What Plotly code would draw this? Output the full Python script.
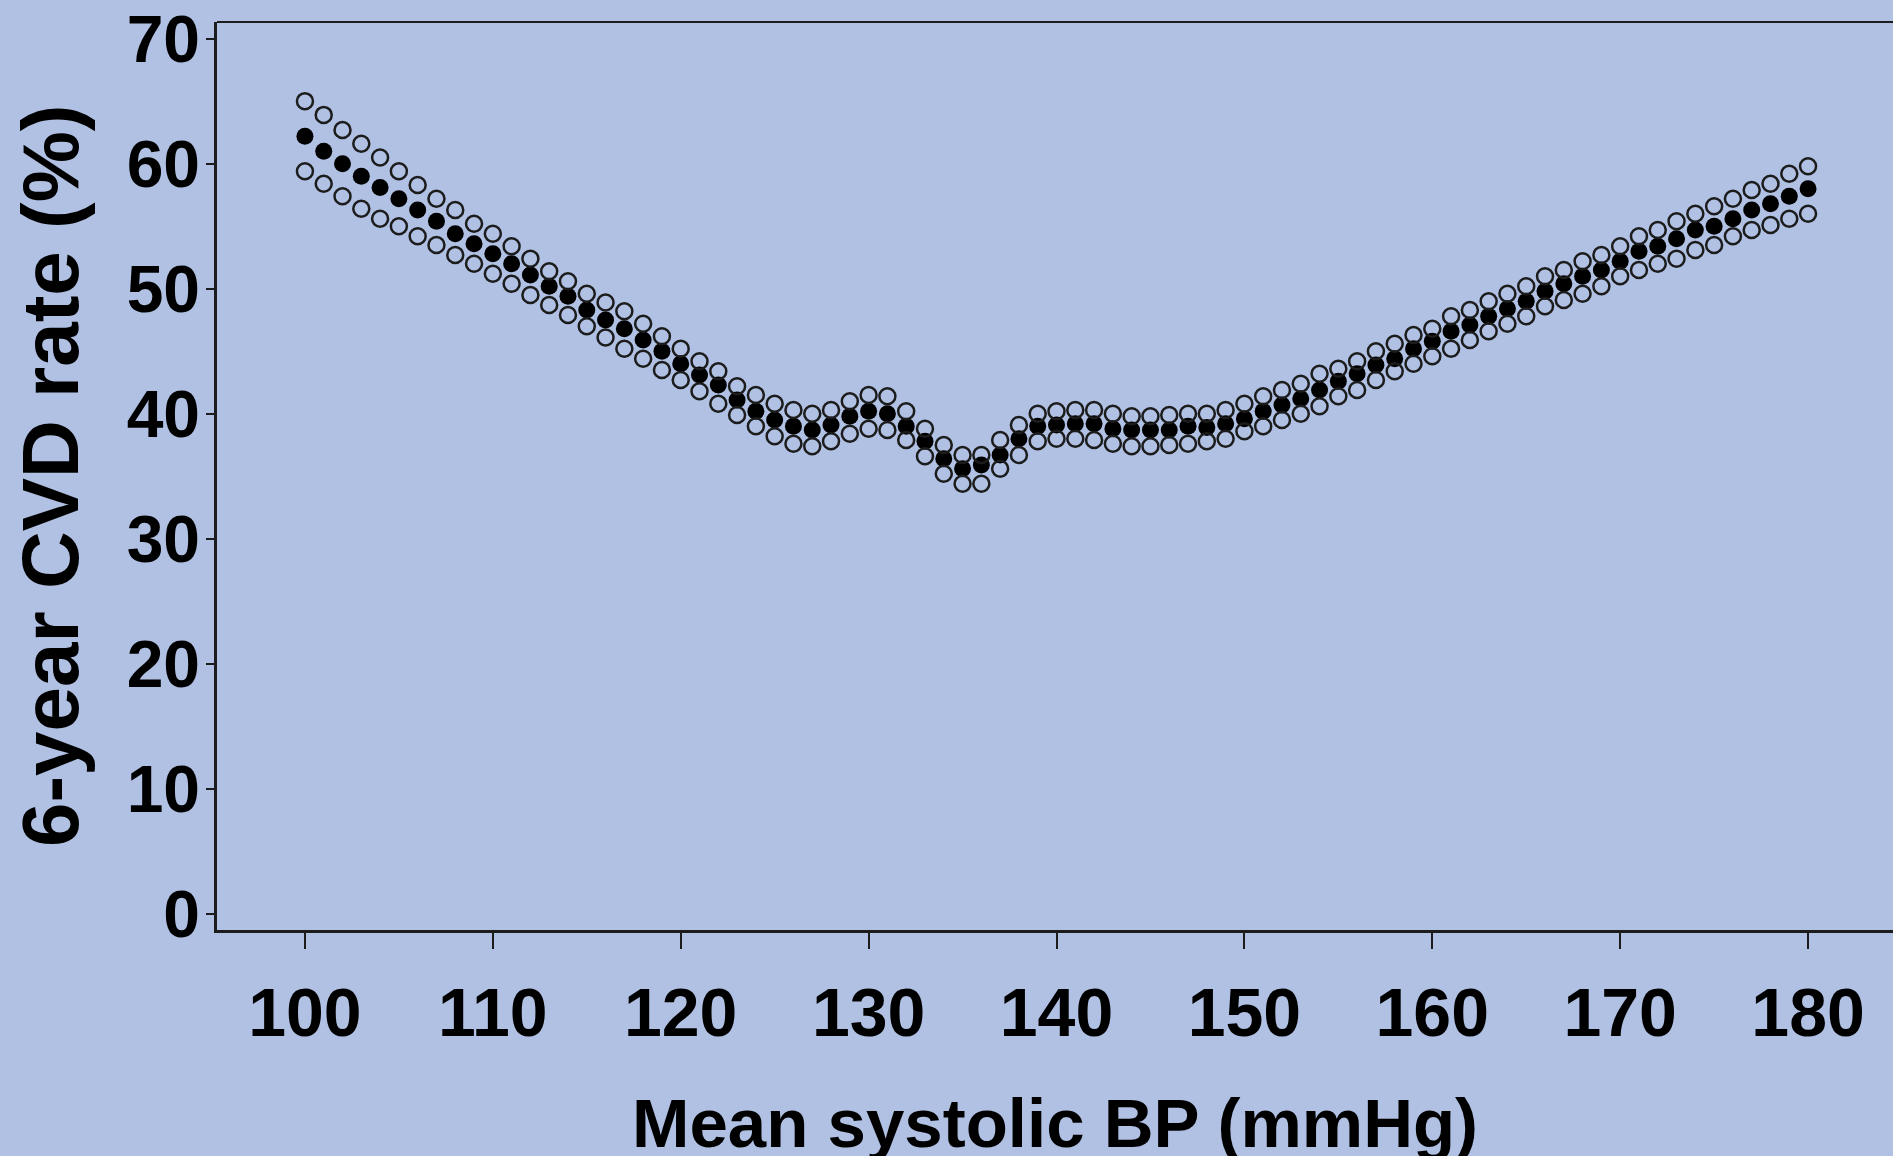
import plotly.graph_objects as go

bp = list(range(100, 181))

cvd_rate = [
    62.2, 61.0, 60.0, 59.0, 58.1, 57.2, 56.3, 55.4, 54.4, 53.6,
    52.8, 52.0, 51.1, 50.2, 49.4, 48.3, 47.5, 46.8, 45.9, 45.0,
    44.0, 43.1, 42.3, 41.1, 40.2, 39.5, 39.0, 38.7, 39.1, 39.8,
    40.2, 40.0, 39.0, 37.8, 36.4, 35.6, 35.9, 36.7, 38.0, 39.0,
    39.1, 39.2, 39.2, 38.8, 38.7, 38.7, 38.7, 39.0, 38.9, 39.2,
    39.6, 40.2, 40.7, 41.2, 41.9, 42.6, 43.2, 43.9, 44.4, 45.2,
    45.8, 46.6, 47.1, 47.8, 48.4, 49.0, 49.8, 50.4, 51.0, 51.5,
    52.2, 53.0, 53.4, 54.0, 54.7, 55.0, 55.6, 56.3, 56.8, 57.4,
    58.0,
]

ci_upper = [
    65.0, 63.9, 62.7, 61.6, 60.5, 59.4, 58.3, 57.2, 56.3, 55.2,
    54.4, 53.4, 52.4, 51.4, 50.6, 49.6, 48.9, 48.2, 47.2, 46.2,
    45.2, 44.2, 43.4, 42.2, 41.5, 40.8, 40.3, 40.0, 40.3, 41.0,
    41.5, 41.4, 40.2, 38.8, 37.5, 36.7, 36.7, 37.9, 39.1, 40.0,
    40.2, 40.3, 40.3, 40.0, 39.8, 39.8, 39.9, 40.0, 40.0, 40.3,
    40.8, 41.4, 41.9, 42.4, 43.2, 43.6, 44.2, 45.0, 45.6, 46.3,
    46.8, 47.8, 48.3, 49.0, 49.6, 50.2, 51.0, 51.5, 52.2, 52.7,
    53.4, 54.2, 54.7, 55.4, 56.0, 56.6, 57.2, 57.9, 58.4, 59.2,
    59.8,
]

ci_lower = [
    59.4, 58.4, 57.4, 56.4, 55.6, 55.0, 54.2, 53.5, 52.7, 52.0,
    51.2, 50.4, 49.5, 48.7, 47.9, 47.0, 46.1, 45.2, 44.4, 43.5,
    42.7, 41.8, 40.8, 39.9, 39.0, 38.2, 37.6, 37.4, 37.8, 38.4,
    38.8, 38.7, 37.9, 36.6, 35.2, 34.4, 34.4, 35.6, 36.7, 37.8,
    38.0, 38.0, 37.9, 37.6, 37.4, 37.4, 37.5, 37.6, 37.8, 38.0,
    38.6, 39.0, 39.5, 40.0, 40.6, 41.4, 41.9, 42.7, 43.4, 44.0,
    44.6, 45.2, 45.9, 46.6, 47.2, 47.8, 48.6, 49.1, 49.6, 50.2,
    51.0, 51.5, 52.0, 52.4, 53.1, 53.5, 54.2, 54.7, 55.1, 55.6,
    56.0,
]

x_ticks = [100, 110, 120, 130, 140, 150, 160, 170, 180]
y_ticks = [0, 10, 20, 30, 40, 50, 60, 70]

x_title = "Mean systolic BP (mmHg)"
y_title = "6-year CVD rate (%)"

BG = "rgb(176,193,228)"
INK = "#1c1c1c"
FONT = "Liberation Sans, Arial, sans-serif"

fig = go.Figure()

fig.add_trace(go.Scatter(
    x=bp, y=cvd_rate, mode="markers",
    marker=dict(symbol="circle", size=17, color="black", line=dict(width=0)),
    showlegend=False, hoverinfo="x+y",
))
for vals in (ci_upper, ci_lower):
    fig.add_trace(go.Scatter(
        x=bp, y=vals, mode="markers",
        marker=dict(symbol="circle-open", size=16, color=INK,
                    line=dict(width=2.5, color=INK)),
        showlegend=False, hoverinfo="x+y",
    ))

fig.update_layout(
    width=1893, height=1156,
    paper_bgcolor=BG, plot_bgcolor=BG,
    margin=dict(l=217, r=0, t=22, b=226),
    font=dict(family=FONT, color="black"),
    xaxis=dict(
        range=[95.32, 184.52],
        tickmode="array", tickvals=x_ticks,
        ticks="outside", ticklen=16, tickwidth=2, tickcolor=INK,
        showline=True, linewidth=3, linecolor=INK,
        showgrid=False, zeroline=False,
        tickfont=dict(family=FONT, size=68, weight="bold", color="black"),
        ticklabelstandoff=5,
    ),
    yaxis=dict(
        range=[-1.28, 71.33],
        tickmode="array", tickvals=y_ticks,
        ticks="outside", ticklen=8, tickwidth=2, tickcolor=INK,
        showline=True, linewidth=2.5, linecolor=INK,
        showgrid=False, zeroline=False,
        tickfont=dict(family=FONT, size=66, weight="bold", color="black"),
        ticklabelstandoff=-7,
    ),
    shapes=[dict(type="line", xref="paper", yref="paper", x0=0, x1=1, y0=1, y1=1,
                 line=dict(color=INK, width=2))],
    annotations=[
        dict(text=y_title, xref="paper", yref="paper", x=-0.0996, y=0.5,
             xanchor="center", yanchor="middle", textangle=-90, showarrow=False,
             font=dict(family=FONT, size=80, weight="bold", color="black")),
        dict(text=x_title, xref="paper", yref="paper", x=0.5, y=-0.2126,
             xanchor="center", yanchor="middle", showarrow=False,
             font=dict(family=FONT, size=69, weight="bold", color="black")),
    ],
)

fig.write_html(
    "out.html",
    config={"displayModeBar": False},
    post_script="document.body.style.margin='0';document.body.style.overflow='hidden';",
)
